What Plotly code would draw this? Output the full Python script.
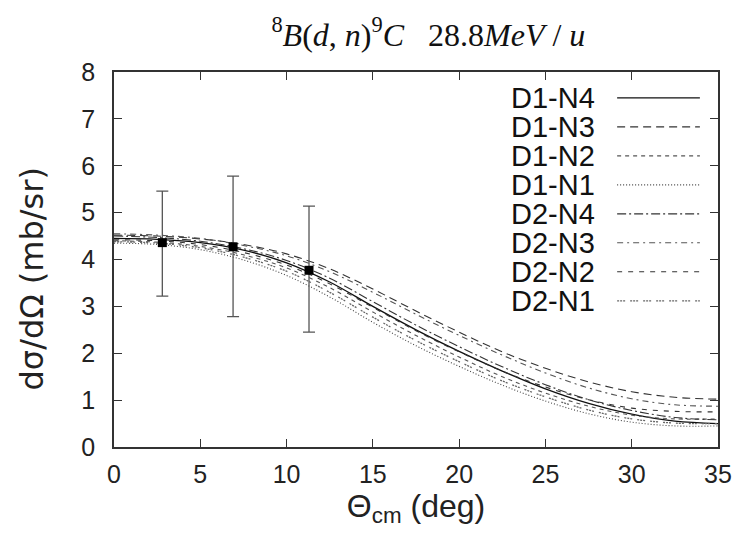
import plotly.graph_objects as go

# ---------------- data ----------------
theta = [0, 2.5, 5, 7.5, 10, 12.5, 15, 17.5, 20, 22.5, 25, 27.5, 30, 32.5, 35]

series_names = ["D1-N4", "D1-N3", "D1-N2", "D1-N1", "D2-N4", "D2-N3", "D2-N2", "D2-N1"]

d1_n4 = [4.45, 4.43, 4.36, 4.20, 3.93, 3.52, 3.00, 2.50, 2.04, 1.62, 1.24, 0.93, 0.70, 0.55, 0.50]
d1_n3 = [4.52, 4.50, 4.44, 4.32, 4.12, 3.80, 3.37, 2.90, 2.45, 2.03, 1.68, 1.39, 1.18, 1.06, 1.02]
d1_n2 = [4.40, 4.37, 4.28, 4.10, 3.82, 3.40, 2.88, 2.38, 1.92, 1.50, 1.15, 0.87, 0.68, 0.60, 0.60]
d1_n1 = [4.35, 4.32, 4.21, 3.99, 3.66, 3.20, 2.66, 2.16, 1.72, 1.32, 0.98, 0.71, 0.53, 0.45, 0.45]
d2_n4 = [4.50, 4.47, 4.39, 4.23, 3.98, 3.60, 3.10, 2.60, 2.14, 1.71, 1.33, 1.01, 0.78, 0.63, 0.58]
d2_n3 = [4.55, 4.52, 4.45, 4.30, 4.08, 3.74, 3.30, 2.83, 2.38, 1.96, 1.58, 1.26, 1.03, 0.90, 0.87]
d2_n2 = [4.42, 4.40, 4.32, 4.15, 3.88, 3.48, 2.98, 2.48, 2.03, 1.62, 1.28, 1.01, 0.83, 0.76, 0.75]
d2_n1 = [4.38, 4.35, 4.25, 4.05, 3.75, 3.30, 2.77, 2.27, 1.82, 1.41, 1.07, 0.79, 0.60, 0.51, 0.50]

series_values = [d1_n4, d1_n3, d1_n2, d1_n1, d2_n4, d2_n3, d2_n2, d2_n1]

exp_theta = [2.8, 6.9, 11.3]
exp_xs = [4.36, 4.27, 3.77]
exp_err_plus = [1.10, 1.51, 1.37]
exp_err_minus = [1.14, 1.49, 1.32]

x_ticks = [0, 5, 10, 15, 20, 25, 30, 35]
y_ticks = [0, 1, 2, 3, 4, 5, 6, 7, 8]

# ---------------- styles ----------------
dashes = ["solid", "8px,5px", "4px,4px", "1px,2px",
          "9px,3px,2px,3px", "6px,4px,2px,4px", "5px,6px", "2px,1px,2px,1px,2px,5px"]
colors = ["#111111", "#333333", "#555555", "#444444",
          "#333333", "#555555", "#333333", "#666666"]
widths = [1.3, 1.1, 1.1, 1.1, 1.1, 1.1, 1.1, 1.3]

SANS = "Liberation Sans, Arial, Helvetica, sans-serif"

fig = go.Figure()

for name, vals, dsh, col, w in zip(series_names, series_values, dashes, colors, widths):
    fig.add_trace(go.Scatter(
        x=theta, y=vals, mode="lines", name=name,
        line=dict(color=col, dash=dsh, width=w, shape="spline", smoothing=1.0),
        showlegend=False,
    ))

fig.add_trace(go.Scatter(
    x=exp_theta, y=exp_xs, mode="markers", name="data",
    marker=dict(symbol="square", size=9, color="black"),
    error_y=dict(type="data", symmetric=False, array=exp_err_plus,
                 arrayminus=exp_err_minus, color="#555555", thickness=1.3, width=6),
    showlegend=False,
))

# manual legend: text on the left, line sample on the right (as in the original)
row0 = 0.931
step = 0.0773
for i, (name, dsh, col, w) in enumerate(zip(series_names, dashes, colors, widths)):
    yy = row0 - i * step
    fig.add_annotation(x=0.80, y=yy, xref="paper", yref="paper", text=name,
                       showarrow=False, xanchor="right", yanchor="middle",
                       font=dict(family=SANS, size=29, color="#111111"))
    fig.add_shape(type="line", xref="paper", yref="paper",
                  x0=0.833, x1=0.97, y0=yy, y1=yy,
                  line=dict(color=col, dash=dsh, width=w))

# y-axis title as a rotated annotation (placed slightly below the axis centre, as in the original)
fig.add_annotation(x=-0.135, y=0.448, xref="paper", yref="paper",
                   text="dσ/dΩ (mb/sr)", textangle=-90, showarrow=False,
                   xanchor="center", yanchor="middle",
                   font=dict(family="DejaVu Sans, Verdana, sans-serif", size=32, color="#222222"))

title_html = ("<sup>8</sup><i>B</i>(<i>d</i>, <i>n</i>)<sup>9</sup><i>C</i>"
              "&nbsp;&nbsp;&nbsp;28.8<i>MeV</i> / <i>u</i>")

# the page body has an 8px default margin: the figure is 8px smaller so that it fits the window
fig.update_layout(
    width=744, height=527,
    margin=dict(l=106, r=34, t=64, b=88, autoexpand=False),
    paper_bgcolor="white", plot_bgcolor="white",
    title=dict(text=title_html, x=0.565, xanchor="center", y=0.95, yanchor="middle",
               font=dict(family="Liberation Serif, Times New Roman, serif", size=32, color="#111111")),
    xaxis=dict(range=[0, 35], tickvals=x_ticks, ticktext=[str(v) for v in x_ticks],
               ticks="inside", ticklen=8, tickwidth=1.3, tickcolor="#333333",
               showline=True, linecolor="#333333", linewidth=1.5, mirror="ticks",
               showgrid=False, zeroline=False, ticklabelstandoff=4, automargin=False,
               tickfont=dict(family=SANS, size=25, color="#222222"),
               title=dict(text="Θ<sub>cm</sub> (deg)", standoff=4,
                          font=dict(family=SANS, size=32, color="#222222"))),
    yaxis=dict(range=[0, 8], tickvals=y_ticks, ticktext=[str(v) for v in y_ticks],
               ticks="inside", ticklen=8, tickwidth=1.3, tickcolor="#333333",
               showline=True, linecolor="#333333", linewidth=1.5, mirror="ticks",
               showgrid=False, zeroline=False, ticklabelstandoff=12, automargin=False,
               tickfont=dict(family=SANS, size=25, color="#222222")),
)

fig.write_html("out.html")
